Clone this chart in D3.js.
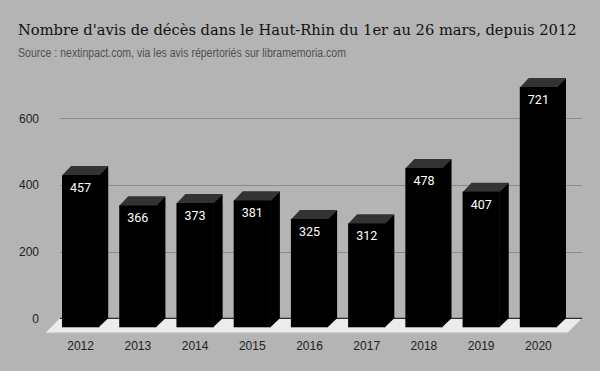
<!DOCTYPE html>
<html><head><meta charset="utf-8">
<script src="https://cdn.jsdelivr.net/npm/d3@7"></script>
<style>html,body{margin:0;padding:0;background:#b4b4b4;}svg{display:block;}</style>
</head><body>
<script>
const years = ["2012","2013","2014","2015","2016","2017","2018","2019","2020"];
const values = [457,366,373,381,325,312,478,407,721];
const yTicks = [0,200,400,600];
const titleText = "Nombre d'avis de décès dans le Haut-Rhin du 1er au 26 mars, depuis 2012";
const subtitleText = "Source : nextinpact.com, via les avis répertoriés sur libramemoria.com";

const W = 600, H = 371;
const svg = d3.select("body").append("svg").attr("width", W).attr("height", H);
svg.append("rect").attr("width", W).attr("height", H).attr("fill", "#b4b4b4");

function fitText(sel, target) {
  const len = sel.node().getComputedTextLength();
  const fs = parseFloat(sel.attr("font-size"));
  sel.attr("font-size", fs * target / len);
}
const title = svg.append("text").attr("x", 18).attr("y", 35)
  .attr("font-family", "'DejaVu Serif', Georgia, serif").attr("font-size", 16)
  .attr("fill", "#111").text(titleText);
fitText(title, 559);
const sub = svg.append("text").attr("x", 18).attr("y", 56.5)
  .attr("font-family", "'Liberation Sans', Arial, sans-serif").attr("font-size", 12.5)
  .attr("fill", "#505050").attr("textLength", 328).attr("lengthAdjust", "spacingAndGlyphs")
  .text(subtitleText);

const D = 9;      // bar depth
const FD = 14;    // floor depth
const x = d3.scaleBand().domain(years).range([52, 567]).paddingInner(0.35).paddingOuter(0.175);
const y = d3.scaleLinear().domain([0, 600]).range([318.3, 118.3]);

const backL = 60, backR = 582;
// floor
svg.append("polygon")
  .attr("points", [[backL, y(0)], [backR, y(0)], [backR - FD, y(0) + FD], [backL - FD, y(0) + FD]].join(" "))
  .attr("fill", "#ececec");
svg.append("line").attr("x1", backL - FD).attr("x2", backR - FD)
  .attr("y1", y(0) + FD + 0.5).attr("y2", y(0) + FD + 0.5).attr("stroke", "#d6d6d6");

// grid
svg.append("g").selectAll("line").data(yTicks.filter(d => d > 0)).join("line")
  .attr("x1", backL).attr("x2", backR)
  .attr("y1", d => Math.round(y(d)) + 0.5).attr("y2", d => Math.round(y(d)) + 0.5)
  .attr("stroke", "#8a8a8a").attr("stroke-width", 1);
svg.append("line").attr("x1", backL).attr("x2", backR)
  .attr("y1", y(0)).attr("y2", y(0)).attr("stroke", "#000").attr("stroke-width", 1);

// y labels
svg.append("g").selectAll("text").data(yTicks).join("text")
  .attr("x", 39).attr("y", d => y(d) + 4.5).attr("text-anchor", "end")
  .attr("font-family", "'Liberation Sans', Arial, sans-serif").attr("font-size", 12)
  .attr("fill", "#222").text(d => d);

// bars
const g = svg.append("g");
years.forEach((yr, i) => {
  const v = values[i];
  const x0 = x(yr), x1 = x(yr) + x.bandwidth();
  const yt = y(v) + D, yb = y(0) + D;
  g.append("polygon").attr("points", [[x1 - 0.5, yt], [x1 + D, yt - D], [x1 + D, yb - D], [x1 - 0.5, yb]].join(" "))
    .attr("fill", "#000");
  g.append("polygon").attr("points", [[x0, yt + 0.5], [x0 + D, yt - D], [x1 + D, yt - D], [x1, yt + 0.5]].join(" "))
    .attr("fill", "#333");
  g.append("rect").attr("x", x0).attr("y", yt).attr("width", x.bandwidth()).attr("height", yb - yt)
    .attr("fill", "#000");
  g.append("text").attr("x", (x0 + x1) / 2).attr("y", yt + 17).attr("text-anchor", "middle")
    .attr("font-family", "Roboto, 'Liberation Sans', sans-serif").attr("font-size", 12.5)
    .attr("fill", "#fff").text(v);
});

// x labels
svg.append("g").selectAll("text").data(years).join("text")
  .attr("x", d => x(d) + x.bandwidth() / 2).attr("y", 349.5).attr("text-anchor", "middle")
  .attr("font-family", "'Liberation Sans', Arial, sans-serif").attr("font-size", 12)
  .attr("fill", "#222").text(d => d);
</script>
</body></html>
